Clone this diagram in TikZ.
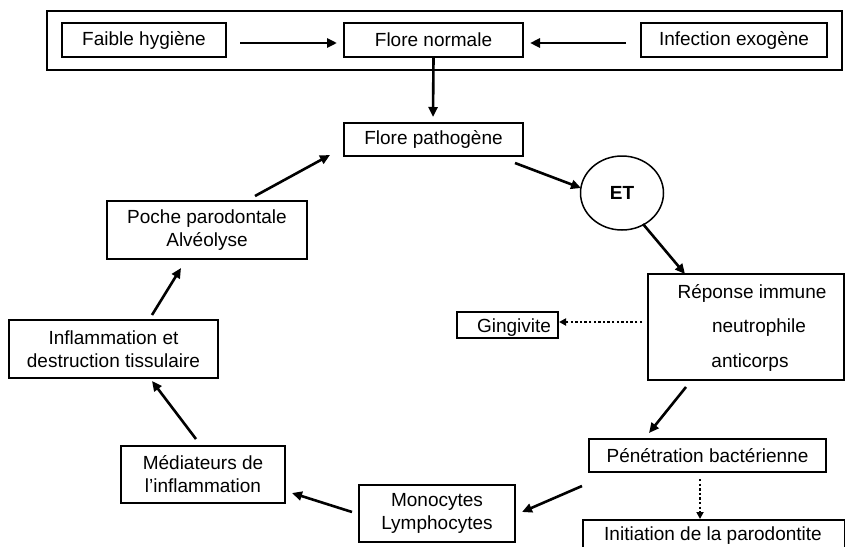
\documentclass[tikz,border=0pt]{standalone}
\usepackage{fontspec}
\setmainfont{Liberation Sans}
\usetikzlibrary{arrows.meta,shapes.geometric}
\begin{document}
\begin{tikzpicture}[x=1pt,y=-1pt,
  txt/.style={font=\fontsize{19}{23}\selectfont,inner sep=0pt},
  box/.style={draw,line width=2pt,inner sep=0pt,font=\fontsize{19}{23}\selectfont,align=center},
  arr/.style={line width=2.6pt,-{Triangle[length=10pt,width=9pt]}},
  dotarr/.style={line width=2.4pt,dash pattern=on 2.4pt off 2.2pt,-{Triangle[length=7pt,width=7pt]}}]
\useasboundingbox (0,0) rectangle (845,546);
\fill[white] (0,0) rectangle (845,546);
\node[draw,line width=1.1pt,minimum width=795pt,minimum height=59pt,inner sep=0pt] (outer) at (444.5,40.5) {};
\node[box,minimum width=164pt,minimum height=34pt] (faible) at (144,40) {Faible hygiène};
\node[box,minimum width=179pt,minimum height=34pt] (normale) at (433.5,40) {Flore normale};
\node[box,minimum width=186pt,minimum height=34pt] (exo) at (734,40) {Infection exogène};
\node[box,minimum width=179pt,minimum height=33pt] (patho) at (433.5,139.5) {Flore pathogène};
\node[draw,line width=1.5pt,ellipse,inner sep=0pt,minimum width=83pt,minimum height=74pt,font=\bfseries\fontsize{19}{23}\selectfont] (et) at (622,193) {ET};
\node[box,minimum width=196pt,minimum height=106pt] (rep) at (746,327) {};
\node[txt] (rep1) at (752,293) {Réponse immune};
\node[txt] (rep2) at (759,328) {neutrophile};
\node[txt] (rep3) at (750,363) {anticorps};
\node[box,minimum width=101pt,minimum height=26pt] (ging) at (507.5,325) {};
\node[txt] (gingt) at (514,327.5) {Gingivite};
\node[box,minimum width=237pt,minimum height=33pt] (pene) at (707.5,455.5) {Pénétration bactérienne};
\node[box,minimum width=262pt,minimum height=40pt,anchor=north west] (init) at (582,519) {};
\node[txt] (initt) at (713,536) {Initiation de la parodontite};
\node[box,minimum width=156pt,minimum height=57pt] (mono) at (437,513.5) {Monocytes\\Lymphocytes};
\node[box,minimum width=164pt,minimum height=57pt] (medi) at (203,474.5) {Médiateurs de\\l’inflammation};
\node[box,minimum width=209pt,minimum height=58pt] (infl) at (113.5,349) {Inflammation et\\destruction tissulaire};
\node[box,minimum width=200pt,minimum height=58pt] (poche) at (207,230) {Poche parodontale\\Alvéolyse};
\coordinate (a1s) at (240,43); \coordinate (a1e) at (337,43);
\draw[arr] (a1s) -- (a1e);
\coordinate (a2s) at (626,43); \coordinate (a2e) at (530,43);
\draw[arr] (a2s) -- (a2e);
\coordinate (v1) at (433,117);
\draw[arr] (normale.south) -- (v1);
\coordinate (b1) at (515,163); \coordinate (b2) at (581,188);
\draw[arr] (b1) -- (b2);
\coordinate (c1) at (643,224); \coordinate (c2) at (685,274);
\draw[arr] (c1) -- (c2);
\coordinate (d1) at (642,322);
\draw[dotarr] (d1) -- (ging.east |- d1);
\coordinate (e1) at (686,387); \coordinate (e2) at (649,433);
\draw[arr] (e1) -- (e2);
\coordinate (f1) at (700,479);
\draw[dotarr] (f1) -- (init.north -| f1);
\coordinate (g1) at (582,486); \coordinate (g2) at (522,512);
\draw[arr] (g1) -- (g2);
\coordinate (h1) at (352,512); \coordinate (h2) at (292,493);
\draw[arr] (h1) -- (h2);
\coordinate (i1) at (196,439); \coordinate (i2) at (152,381);
\draw[arr] (i1) -- (i2);
\coordinate (j1) at (152,315); \coordinate (j2) at (181,268);
\draw[arr] (j1) -- (j2);
\coordinate (k1) at (255,196); \coordinate (k2) at (330,155);
\draw[arr] (k1) -- (k2);
\end{tikzpicture}
\end{document}
